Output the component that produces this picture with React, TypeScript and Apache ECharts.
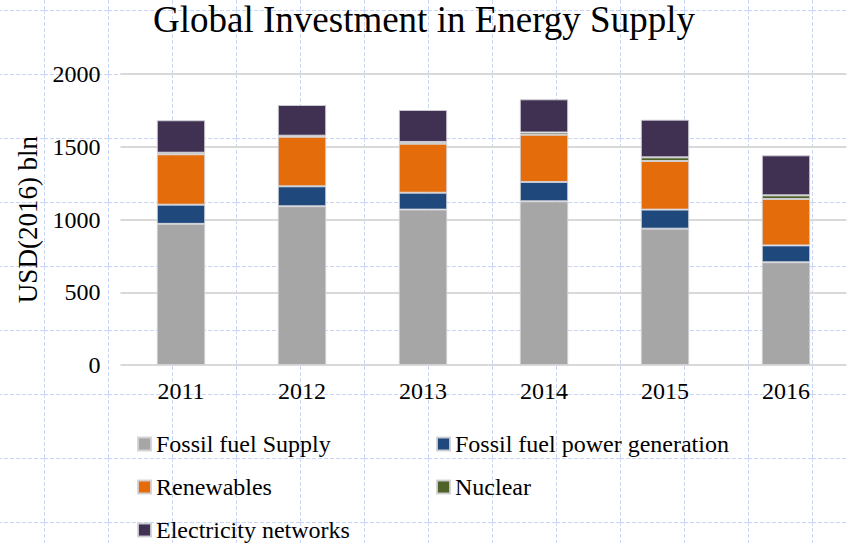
import React, { useEffect, useRef } from "react";
import * as echarts from "echarts";

const categories = ["2011", "2012", "2013", "2014", "2015", "2016"];
const fossilSupply = [970, 1091, 1068, 1125, 937, 706];
const fossilPower = [132, 137, 116, 133, 131, 116];
const renewables = [346, 341, 337, 325, 334, 319];
const nuclear = [11, 7, 12, 15, 25, 25];
const networks = [223, 211, 220, 228, 259, 275];

const seriesNames = [
  "Fossil fuel Supply",
  "Fossil fuel power generation",
  "Renewables",
  "Nuclear",
  "Electricity networks",
];
const seriesData = [fossilSupply, fossilPower, renewables, nuclear, networks];
const colors = ["#A6A6A6", "#1F497D", "#E46C0A", "#4F6228", "#403152"];

const FONT = "'Liberation Serif', 'Times New Roman', serif";

const bgSvg =
  "url(\"data:image/svg+xml;utf8,<svg xmlns='http://www.w3.org/2000/svg' width='64' height='64'><path d='M0 0.5H64M0.5 0V64' stroke='%23c9d6f6' stroke-width='1' stroke-dasharray='4 2' fill='none'/></svg>\")";

const legendBase = {
  orient: "vertical",
  top: 432,
  height: 140,
  padding: 0,
  itemGap: 19,
  itemWidth: 13,
  itemHeight: 13,
  icon: "rect",
  textStyle: { fontFamily: FONT, fontSize: 24, color: "#000" },
};

export default function App() {
  const ref = useRef<HTMLDivElement>(null);
  useEffect(() => {
    if (!ref.current) return;
    const chart = echarts.init(ref.current, null, { renderer: "svg" });
    chart.setOption({
      animation: false,
      color: colors,
      title: {
        text: "Global Investment in Energy Supply",
        left: "center",
        top: -4,
        textStyle: { fontFamily: FONT, fontSize: 37, fontWeight: "normal", color: "#000" },
      },
      legend: [
        {
          ...legendBase,
          left: 137,
          data: ["Fossil fuel Supply", "Renewables", "Electricity networks"],
        },
        {
          ...legendBase,
          left: 436,
          data: ["Fossil fuel power generation", "Nuclear"],
        },
      ],
      grid: { left: 120.5, right: 1.5, top: 74, bottom: 178, containLabel: false },
      xAxis: {
        type: "category",
        data: categories,
        axisLine: { show: false },
        axisTick: { show: false },
        axisLabel: { fontFamily: FONT, fontSize: 24, color: "#000", margin: 14 },
      },
      yAxis: {
        type: "value",
        min: 0,
        max: 2000,
        interval: 500,
        name: "USD(2016) bln",
        nameLocation: "middle",
        nameGap: 70,
        nameTextStyle: { fontFamily: FONT, fontSize: 27, color: "#000" },
        axisLine: { show: false },
        axisTick: { show: false },
        axisLabel: {
          fontFamily: FONT,
          fontSize: 24,
          color: "#000",
          margin: 20,
          formatter: (v: number) => String(v),
        },
        splitLine: { lineStyle: { color: "#d9d9d9", width: 2 } },
      },
      series: seriesNames.map((name, i) => ({
        name,
        type: "bar",
        stack: "total",
        barWidth: "40%",
        data: seriesData[i],
        itemStyle: { color: colors[i], borderColor: "rgba(210,210,215,0.9)", borderWidth: 1 },
      })),
    });
    return () => chart.dispose();
  }, []);
  return (
    <div
      ref={ref}
      style={{
        position: "fixed",
        left: 0,
        top: 0,
        width: 848,
        height: 543,
        backgroundColor: "#fff",
        backgroundImage: bgSvg,
        backgroundPosition: "44px 10px",
      }}
    />
  );
}
